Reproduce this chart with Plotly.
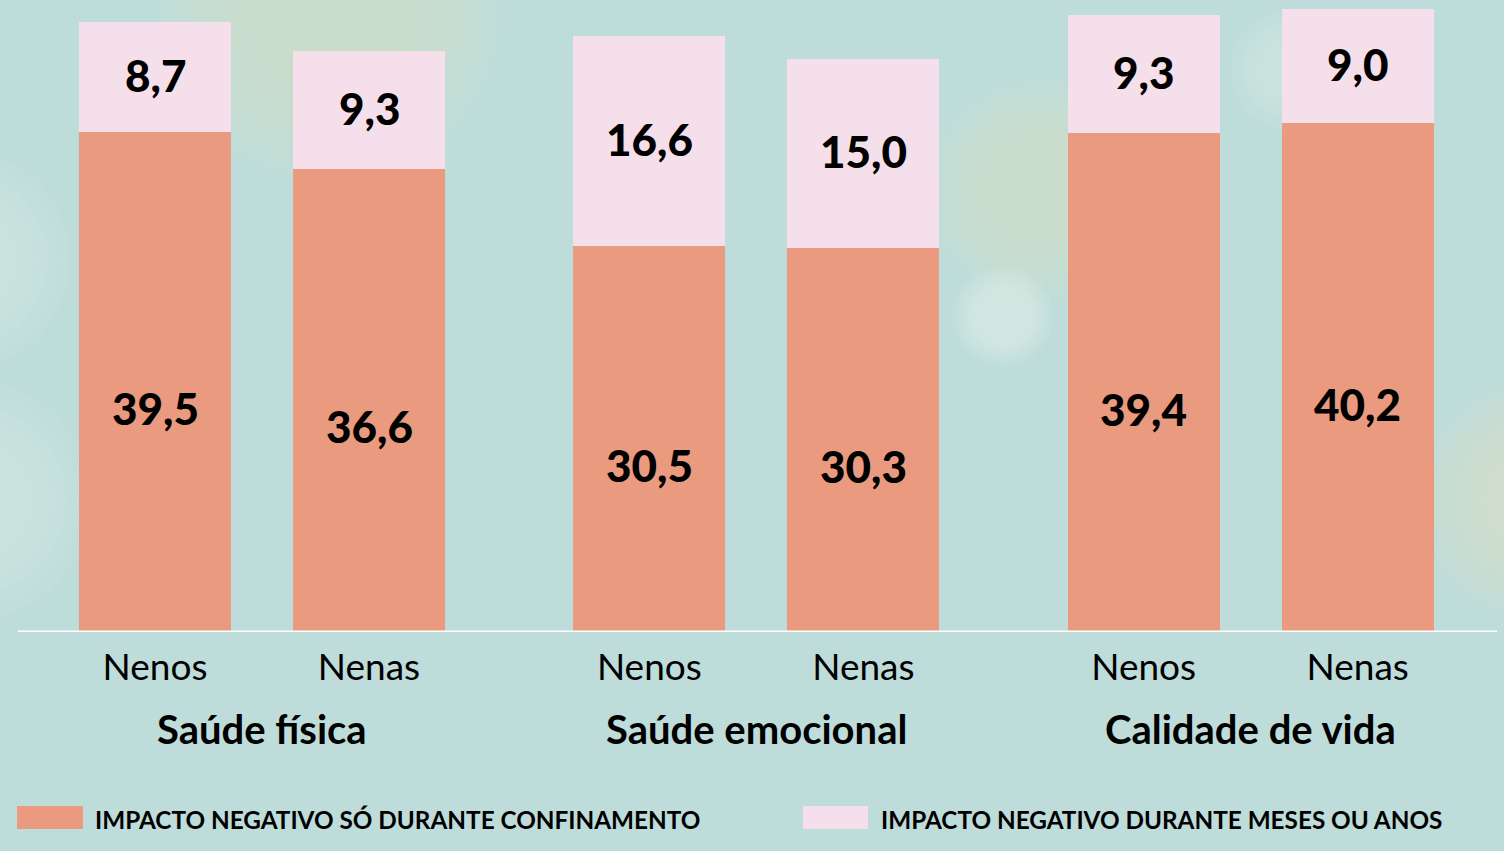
import plotly.graph_objects as go

# ---- data ----
groups = ["Saúde física", "Saúde emocional", "Calidade de vida"]
subgroups = ["Nenos", "Nenas"]
series_names = ["IMPACTO NEGATIVO SÓ DURANTE CONFINAMENTO",
                "IMPACTO NEGATIVO DURANTE MESES OU ANOS"]
confinamento = [39.5, 36.6, 30.5, 30.3, 39.4, 40.2]
meses_anos = [8.7, 9.3, 16.6, 15.0, 9.3, 9.0]

# ---- styling ----
BG = "#bedcda"
ORANGE = "#ea9a7f"
PINK = "#f5dfea"
FONT = "Lato"
W, H = 1504, 851
ML, MR, MT, MB = 18, 7, 0, 219
GROUP_GAP = 0.31
PX_PER_X = 214.0
PX_PER_Y = 12.66

def fmt(v):
    return f"{v:.1f}".replace(".", ",")

# positions from indices (group spacing)
xs, ticktext = [], []
for g in range(len(groups)):
    for i, s in enumerate(subgroups):
        xs.append(g * (len(subgroups) + GROUP_GAP) + i)
        ticktext.append(s)

fig = go.Figure()
fig.add_bar(x=xs, y=confinamento, marker=dict(color=ORANGE, line=dict(width=0)),
            width=0.71, name=series_names[0], hoverinfo="skip")
fig.add_bar(x=xs, y=meses_anos, marker=dict(color=PINK, line=dict(width=0)),
            width=0.71, name=series_names[1], hoverinfo="skip")

ann = []
label_font = dict(family=FONT, size=44, color="black", weight=900)
for x, a, b in zip(xs, confinamento, meses_anos):
    ann.append(dict(x=x, y=a / 2, yshift=-26, text=fmt(a), showarrow=False,
                    font=label_font, xref="x", yref="y"))
    ann.append(dict(x=x, y=a + b / 2, yshift=2, text=fmt(b), showarrow=False,
                    font=label_font, xref="x", yref="y"))

# group labels
n_sub = len(subgroups)
for g, name in enumerate(groups):
    gx = xs[g * n_sub:(g + 1) * n_sub]
    ann.append(dict(x=sum(gx) / len(gx), y=0, yref="paper", yanchor="middle",
                    yshift=-97, text=f"<b>{name}</b>", showarrow=False,
                    font=dict(family=FONT, size=40, color="black")))

plot_w = W - ML - MR
plot_h = H - MT - MB

def px2paper(px, py):
    return (px - ML) / plot_w, (H - MB - py) / plot_h

shapes = []
# soft background blobs
blobs = [
    (330, 10, 170, "#d6e2c8"),
    (1040, 190, 110, "#d8e4c8"),
    (1003, 316, 50, "#e6f0ec"),
    (-40, 260, 110, "#d4e8e4"),
    (-30, 500, 120, "#d4e8e4"),
    (1540, 500, 120, "#dbe4c8"),
    (1290, 70, 60, "#d6e8e4"),
]
for cx, cy, r, col in blobs:
    for f in [1.0, 0.9, 0.8, 0.7, 0.6, 0.5]:
        x0, y0 = px2paper(cx - r * f, cy + r * f)
        x1, y1 = px2paper(cx + r * f, cy - r * f)
        shapes.append(dict(type="circle", xref="paper", yref="paper",
                           x0=x0, y0=y0, x1=x1, y1=y1, fillcolor=col,
                           opacity=0.14, line=dict(width=0), layer="below"))

# baseline
shapes.append(dict(type="line", xref="paper", yref="y", x0=0, x1=1, y0=0, y1=0,
                   line=dict(color="white", width=3), layer="above"))

# custom legend
legend_items = [(series_names[0], ORANGE, 17, 83, 93),
                (series_names[1], PINK, 803, 868, 879)]
for name, col, sx0, sx1, tx in legend_items:
    x0, y0 = px2paper(sx0, 829)
    x1, y1 = px2paper(sx1, 806)
    shapes.append(dict(type="rect", xref="paper", yref="paper", x0=x0, y0=y0,
                       x1=x1, y1=y1, fillcolor=col, line=dict(width=0)))
    txp, typ = px2paper(tx, 819)
    ann.append(dict(x=txp, y=typ, xref="paper", yref="paper", xanchor="left",
                    yanchor="middle", text=f"<b>{name}</b>", showarrow=False,
                    font=dict(family=FONT, size=24.3, color="black")))

x_left = -(155 - ML) / PX_PER_X
x_right = x_left + plot_w / PX_PER_X

fig.update_layout(
    barmode="stack",
    width=W, height=H,
    margin=dict(l=ML, r=MR, t=MT, b=MB, pad=0),
    paper_bgcolor=BG, plot_bgcolor="rgba(0,0,0,0)",
    showlegend=False,
    annotations=ann,
    shapes=shapes,
    xaxis=dict(range=[x_left, x_right], tickmode="array", tickvals=xs,
               ticktext=ticktext, showgrid=False, zeroline=False,
               ticks="", ticklen=0, ticklabelstandoff=10,
               tickfont=dict(family=FONT, size=37, color="black")),
    yaxis=dict(range=[0, plot_h / PX_PER_Y], visible=False, showgrid=False),
    bargap=0,
)
fig.write_html("out.html",
               config={"displayModeBar": False},
               post_script="document.body.style.margin='0';"
                           "document.body.style.overflow='hidden';"
                           "document.body.style.background='" + BG + "';")
